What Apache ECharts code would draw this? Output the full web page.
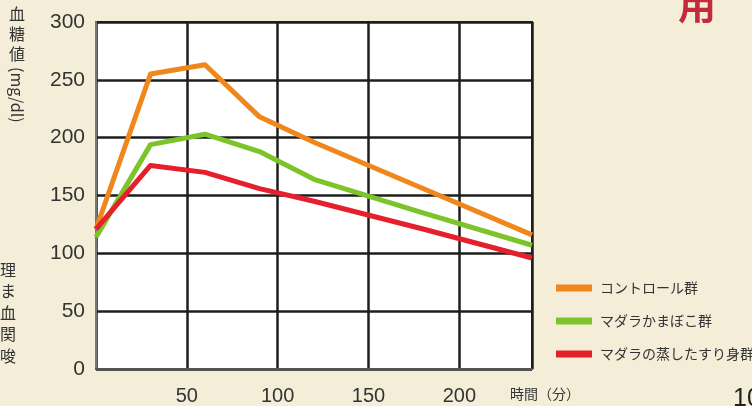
<!DOCTYPE html>
<html>
<head>
<meta charset="utf-8">
<script src="https://cdn.jsdelivr.net/npm/echarts@6/dist/echarts.min.js"></script>
<style>
  html, body { margin: 0; padding: 0; background: #f4eed9; }
  #chart { width: 752px; height: 406px; }
</style>
</head>
<body>
<div id="chart"></div>
<script>
// Blood glucose after ingestion (mg/dl) against time (min)
const timePoints = [0, 30, 60, 90, 120, 180, 240];
const controlGroup = [121, 255, 263, 218, 196, 156, 116];
const kamabokoGroup = [114, 194, 203, 188, 164, 135, 107];
const surimiGroup = [121, 176, 170, 156, 145, 121, 96];

const seriesNames = ['コントロール群', 'マダラかまぼこ群', 'マダラの蒸したすり身群'];
const seriesColors = ['#f0871d', '#7dc42b', '#e51f2b'];
const xTickLabels = ['50', '100', '150', '200'];

const toPairs = (vals) => timePoints.map((t, i) => [t, vals[i]]);
const seriesValues = [controlGroup, kamabokoGroup, surimiGroup];

const chart = echarts.init(document.getElementById('chart'));
const font = '"Liberation Sans", Arial, sans-serif';
const jpFont = '"Noto Sans CJK JP", sans-serif';

chart.setOption({
  backgroundColor: '#f4eed9',
  animation: false,
  grid: {
    left: 96, right: 220, top: 22, bottom: 36,
    show: true, backgroundColor: '#ffffff', borderColor: '#1e1e1e', borderWidth: 2
  },
  xAxis: {
    type: 'value', min: 0, max: 240, interval: 50,
    axisLine: { show: true, lineStyle: { color: '#555', width: 2 } },
    axisTick: { show: false },
    splitLine: { show: true, lineStyle: { color: '#1e1e1e', width: 2.5 } },
    axisLabel: {
      margin: 17, fontSize: 20, color: '#333', fontFamily: font,
      formatter: (v) => xTickLabels.includes(String(v)) ? String(v) : ''
    }
  },
  yAxis: {
    type: 'value', min: 0, max: 300, interval: 50,
    axisLine: { show: true, lineStyle: { color: '#777', width: 2 } },
    axisTick: { show: false },
    splitLine: { show: true, lineStyle: { color: '#1e1e1e', width: 2.5 } },
    axisLabel: { margin: 11, fontSize: 21, color: '#333', fontFamily: font }
  },
  legend: {
    orient: 'vertical', left: 551, top: 276,
    icon: 'rect', itemWidth: 36, itemHeight: 7, itemGap: 19,
    textStyle: { fontSize: 14, color: '#333', fontFamily: jpFont, padding: [0, 0, 0, 3] },
    data: seriesNames
  },
  series: seriesNames.map((name, i) => ({
    name, type: 'line', data: toPairs(seriesValues[i]),
    symbol: 'none', z: 3 + i,
    lineStyle: { color: seriesColors[i], width: 5, join: 'round' },
    itemStyle: { color: seriesColors[i] }
  })),
  graphic: [
    { type: 'text', left: 9, top: 4, style: { text: '血\n糖\n値', lineHeight: 20, fill: '#333', font: '16px ' + jpFont } },
    { type: 'text', x: 25, y: 67, rotation: -Math.PI / 2, style: { text: '(mg/dl)', fill: '#333', font: '16px ' + jpFont } },
    { type: 'text', left: 510, top: 387, style: { text: '時間（分）', fill: '#333', font: '14px ' + jpFont } },
    { type: 'text', left: 0, top: 259, style: { text: '理\nま\n血\n関\n唆', fill: '#333', font: '16px ' + jpFont, lineHeight: 21.5 } },
    { type: 'text', left: 678, top: -14, style: { text: '用', fill: '#c42a3b', font: 'bold 38px ' + jpFont } },
    { type: 'text', left: 733, top: 387, style: { text: '10', fill: '#222', font: '25px ' + font } }
  ]
});
</script>
</body>
</html>
